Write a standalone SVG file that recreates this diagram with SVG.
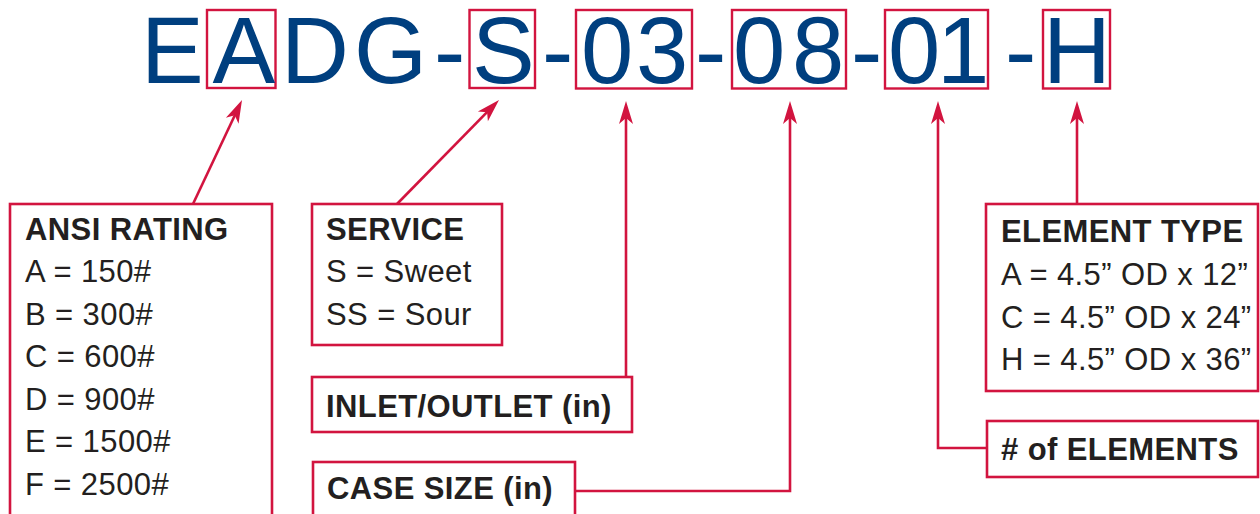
<svg xmlns="http://www.w3.org/2000/svg" width="1260" height="514" viewBox="0 0 1260 514">
  <defs>
    <style>
      .hl{fill:none;stroke:#d2143f;stroke-width:2.4}
      .box{fill:#ffffff;stroke:#d2143f;stroke-width:2.6}
      .conn{fill:none;stroke:#d2143f;stroke-width:2.6;stroke-linecap:butt;stroke-linejoin:miter}
      .code{font-family:"Liberation Sans",Arial,Helvetica,sans-serif;font-size:94px;fill:#003f7f}
      .t{font-family:"Liberation Sans",Arial,Helvetica,sans-serif;font-size:31px;fill:#231f20;letter-spacing:0.4px}
      .b{font-weight:bold}
    </style>
    <marker id="arr" markerUnits="userSpaceOnUse" viewBox="-16 -8 25 16" refX="0" refY="0" markerWidth="25" markerHeight="16" orient="auto">
      <path d="M8,0 L-15,-7 L-9,0 L-15,7 Z" fill="#d2143f"/>
    </marker>
  </defs>
  <rect width="1260" height="514" fill="#ffffff"/>

  <g id="code">
    <rect class="hl" x="207" y="10" width="68.5" height="78"/>
    <rect class="hl" x="469.5" y="10" width="65.5" height="78"/>
    <rect class="hl" x="576" y="10" width="116" height="78.5"/>
    <rect class="hl" x="732" y="10" width="114" height="78.5"/>
    <rect class="hl" x="885" y="10" width="103" height="78.5"/>
    <rect class="hl" x="1043" y="10" width="67" height="78.5"/>
    <text class="code" y="83" x="141 212.5 281 354 434 472 542 581 636 695 733 792 851 888 937 1005 1043">EADG-S-03-08-01-H</text>
  </g>

  <g id="connectors">
    <path class="conn" d="M193,204 L238.6,107.2" marker-end="url(#arr)"/>
    <path class="conn" d="M397,204 L493.4,105.7" marker-end="url(#arr)"/>
    <path class="conn" d="M626,377 V109" marker-end="url(#arr)"/>
    <path class="conn" d="M575,491 H790 V109" marker-end="url(#arr)"/>
    <path class="conn" d="M987,448 H938 V109" marker-end="url(#arr)"/>
    <path class="conn" d="M1077,204 V109" marker-end="url(#arr)"/>
  </g>

  <g id="ansi-rating">
    <rect class="box" x="10" y="204" width="262" height="320"/>
    <text class="t b" x="25" y="240">ANSI RATING</text>
    <text class="t" x="25" y="282">A = 150#</text>
    <text class="t" x="25" y="324.5">B = 300#</text>
    <text class="t" x="25" y="367">C = 600#</text>
    <text class="t" x="25" y="409.5">D = 900#</text>
    <text class="t" x="25" y="452">E = 1500#</text>
    <text class="t" x="25" y="494.5">F = 2500#</text>
  </g>

  <g id="service">
    <rect class="box" x="312" y="204" width="190" height="141"/>
    <text class="t b" x="326" y="240">SERVICE</text>
    <text class="t" x="326" y="282">S = Sweet</text>
    <text class="t" x="326" y="325">SS = Sour</text>
  </g>

  <g id="inlet-outlet">
    <rect class="box" x="312" y="377" width="320" height="55"/>
    <text class="t b" x="326" y="417">INLET/OUTLET (in)</text>
  </g>

  <g id="case-size">
    <rect class="box" x="313" y="462" width="262" height="62"/>
    <text class="t b" x="327" y="499">CASE SIZE (in)</text>
  </g>

  <g id="element-type">
    <rect class="box" x="986" y="204" width="272" height="187"/>
    <text class="t b" x="1001" y="242">ELEMENT TYPE</text>
    <text class="t" x="1001" y="285">A = 4.5” OD x 12”</text>
    <text class="t" x="1001" y="328">C = 4.5” OD x 24”</text>
    <text class="t" x="1001" y="370">H = 4.5” OD x 36”</text>
  </g>

  <g id="num-elements">
    <rect class="box" x="987" y="421" width="271" height="56"/>
    <text class="t b" x="1001" y="460"># of ELEMENTS</text>
  </g>
</svg>
